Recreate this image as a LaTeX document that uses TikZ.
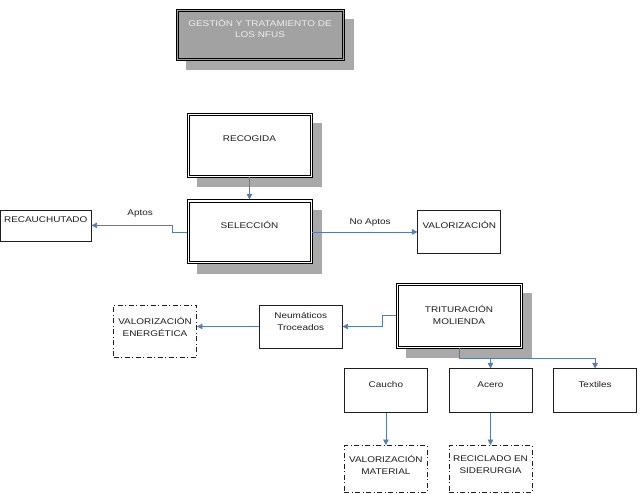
\documentclass[tikz,border=0pt]{standalone}
\usepackage{fontspec}
\setmainfont{Liberation Sans}[FakeStretch=1.2]
\usepackage{tikz}
\usetikzlibrary{arrows.meta,positioning,shadows}
\definecolor{flow}{HTML}{5B7BAF}
\definecolor{shade}{HTML}{A9A9A9}
\definecolor{titlefill}{HTML}{A2A2A2}
\definecolor{titletext}{HTML}{EDEDED}
\definecolor{ink}{HTML}{1E1E1E}

\begin{document}
\begin{tikzpicture}[
    x=1pt, y=-1pt,
    box/.style={rectangle, draw=ink, fill=white, text=ink, line width=0.6pt,
                inner sep=0pt, align=center, font=\fontsize{8.3}{12}\selectfont,
                minimum width=83pt, minimum height=44pt},
    main/.style={box, draw=black, line width=0.9pt,
                 drop shadow={shadow xshift=10pt, shadow yshift=-10pt, fill=shade,
                              draw=none, opacity=1, path picture={}},
                 path picture={\draw[black, line width=0.5pt]
                   ([shift={(2.2pt,2.2pt)}]path picture bounding box.south west) rectangle
                   ([shift={(-2.2pt,-2.2pt)}]path picture bounding box.north east);}},
    final/.style={box, line width=0.9pt, dash pattern=on 5pt off 2.5pt on 1pt off 2.5pt},
    lift/.style={text depth=#1},
    arrow/.style={-{Triangle[length=5.5pt,width=5.5pt]}, line width=0.8pt, color=flow},
    tag/.style={font=\fontsize{8.3}{10}\selectfont, text=ink, inner sep=1pt},
]
\useasboundingbox (0,0) rectangle (642,493);

\node[main,fill=titlefill,text=titletext,font=\fontsize{8.3}{10.5}\selectfont,minimum width=168pt,minimum height=51pt,lift=12pt] (title) at (260,34.5) {GESTIÓN Y TRATAMIENTO DE\\LOS NFUS};

\node[main,minimum width=125pt,minimum height=64pt,lift=12pt] (recogida) at (249.5,145) {RECOGIDA};
\node[main,minimum width=125pt,minimum height=64pt,lift=14pt,below=22pt of recogida] (seleccion) {SELECCIÓN};
\node[box,minimum width=91pt,minimum height=31pt,lift=11pt,left=95pt of seleccion,yshift=6.5pt] (recauchutado) {RECAUCHUTADO};
\node[box,minimum height=43pt,lift=15pt,right=105pt of seleccion] (valorizacion) {VALORIZACIÓN};

\node[main,minimum width=126pt,minimum height=65pt,lift=1pt] (trituracion) at (459,315.5) {TRITURACIÓN\\MOLIENDA};
\node[box,minimum height=43pt,lift=11pt,left=53pt of trituracion,yshift=-11pt] (troceados) {Neumáticos\\Troceados};
\node[final,minimum height=52pt,lift=9pt,left=62pt of troceados,yshift=-4.5pt] (energetica) {VALORIZACIÓN\\ENERGÉTICA};

\node[box,lift=12pt,below=20pt of trituracion,xshift=31.5pt] (acero) {Acero};
\node[box,lift=12pt,left=21pt of acero] (caucho) {Caucho};
\node[box,lift=12pt,right=21pt of acero] (textiles) {Textiles};

\node[final,minimum height=47pt,lift=8pt,below=32pt of caucho] (material) {VALORIZACIÓN\\MATERIAL};
\node[final,minimum height=47pt,lift=8pt,below=32pt of acero] (siderurgia) {RECICLADO EN\\SIDERURGIA};

\coordinate[below=10pt of trituracion.south] (reparto);

\draw[arrow] (recogida) -- (seleccion);
\draw[arrow] (seleccion.west) -- ++(-14pt,0pt) |- (recauchutado.east) node[tag,pos=0.7,above=7pt] (aptos) {Aptos};
\draw[arrow] (seleccion) -- (valorizacion) node[tag,pos=0.55,above=4pt] (noaptos) {No Aptos};
\draw[arrow] (trituracion.west) -- ++(-13pt,0pt) |- (troceados.east);
\draw[arrow] (troceados.west) -- (troceados.west -| energetica.east);
\draw[arrow] (trituracion.south) -- (reparto) -| (textiles.north);
\draw[arrow] (reparto) -| (acero.north);
\draw[arrow] (caucho) -- (material);
\draw[arrow] (acero) -- (siderurgia);

\end{tikzpicture}
\end{document}
